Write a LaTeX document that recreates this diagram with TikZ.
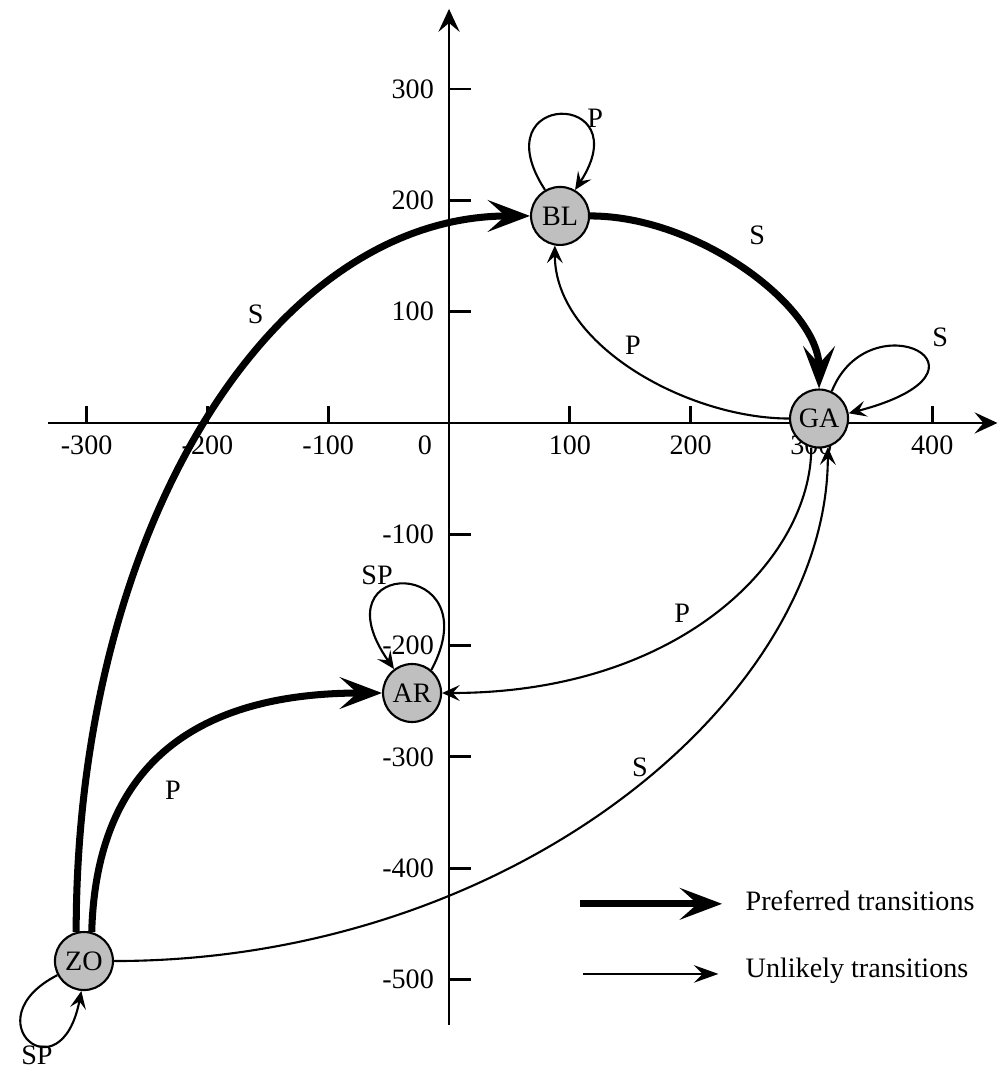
\documentclass[tikz,border=0pt]{standalone}
\usepackage{fontspec}
\setmainfont{Liberation Serif}
\usepackage{tikz}
\usetikzlibrary{arrows.meta}

\begin{document}
\begin{tikzpicture}[x=1.208cm, y=1.113cm, >={Stealth[]},
    every node/.style={font=\fontsize{8}{9.6}\selectfont, inner sep=0pt},
    axis/.style={line width=0.8pt},
    state/.style={circle, draw, line width=0.6pt, fill=black!25, minimum size=5.8mm},
    pref/.style={line width=2pt, -{Stealth[length=12pt, width=9pt, inset=5pt]}},
    unl/.style={line width=0.6pt, -{Stealth[length=5pt, width=4.5pt, inset=2pt]}}]
  \useasboundingbox (-3.717,-5.813) rectangle (4.561,3.800);
  % axes
  \draw[axis, -{Stealth[length=6.5pt, width=6pt, inset=2.5pt]}] (-3.32,0) -- (4.54,0);
  \draw[axis, -{Stealth[length=6.5pt, width=6pt, inset=2.5pt]}] (0,-5.41) -- (0,3.72);
  \foreach \i in {-3,-2,-1,1,2,3,4} {
    \draw[axis] (\i,0) -- (\i,0.15);
    \node (xl\i) at (\i,-0.2) {\i00};
  }
  \foreach \j in {-5,-4,-3,-2,-1,1,2,3} {
    \draw[axis] (0,\j) -- (0.18,\j);
    \node[anchor=east] (yl\j) at (-0.12,\j) {\j00};
  }
  \node (xl0) at (-0.2,-0.2) {0};
  % states
  \node[state] (BL) at (0.919,1.86) {BL};
  \node[state] (GA) at (3.063,0.04) {GA};
  \node[state] (AR) at (-0.306,-2.426) {AR};
  \node[state] (ZO) at (-3.022,-4.834) {ZO};
  % preferred transitions
  \draw[pref] (ZO.105) .. controls +(0,3.6) and +(-2.15,0) .. (BL.west);
  \draw[pref] (ZO.75) .. controls +(0.04,1.62) and +(-1.41,0) .. (AR.west);
  \draw[pref] (BL.east) .. controls +(0.91,0) and +(0,0.72) .. (GA.north);
  % unlikely transitions
  \draw[unl] (GA.west) .. controls +(-0.83,0) and +(0,-0.9) .. (BL.-100);
  \draw[unl] (GA.-105) .. controls +(0,-0.99) and +(1.99,0) .. (AR.east);
  \draw[unl] (ZO.east) .. controls +(3.31,0) and +(0,-2.25) .. (GA.-73);
  % self loops
  \draw[unl] (BL.120) .. controls +(-0.54,0.9) and +(0.54,0.9) .. (BL.60);
  \draw[unl] (GA.65) .. controls +(0.31,0.84) and +(1.37,0.39) .. (GA.10);
  \draw[unl] (AR.50) .. controls +(0.5,1.02) and +(-0.66,1.02) .. (AR.127);
  \draw[unl] (ZO.208) .. controls +(-0.72,-0.40) and +(-0.17,-0.96) .. (ZO.265);
  % transition labels
  \node (sZB) at (-1.60,0.975) {S};
  \node (pZA) at (-2.285,-3.297) {P};
  \node (sBG) at (2.550,1.689) {S};
  \node (pGB) at (1.523,0.701) {P};
  \node (pGA) at (1.929,-1.707) {P};
  \node (sZG) at (1.581,-3.091) {S};
  \node (pBB) at (1.209,2.740) {P};
  \node (sGG) at (4.065,0.773) {S};
  \node (spAA) at (-0.596,-1.366) {SP};
  \node (spZZ) at (-3.411,-5.68) {SP};
  % legend
  \coordinate (kp1) at (1.08,-4.32);
  \coordinate (kp2) at (2.26,-4.32);
  \coordinate (ku1) at (1.11,-4.95);
  \coordinate (ku2) at (2.23,-4.95);
  \draw[pref] (kp1) -- (kp2);
  \draw[unl, -{Stealth[length=7pt, width=5pt, inset=2.5pt]}] (ku1) -- (ku2);
  \node[anchor=west] (kpref) at (2.45,-4.29) {Preferred transitions};
  \node[anchor=west] (kunl) at (2.45,-4.92) {Unlikely transitions};
\end{tikzpicture}
\end{document}
